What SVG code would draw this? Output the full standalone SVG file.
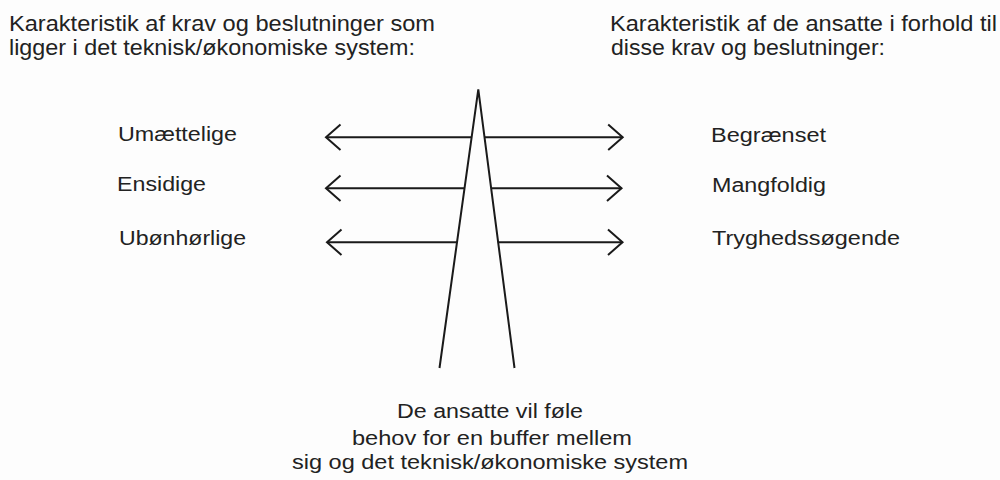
<svg xmlns="http://www.w3.org/2000/svg" width="1000" height="480" viewBox="0 0 1000 480">
  <style>
    text { font-family: "Liberation Sans", Arial, sans-serif; fill: #222; }
    .h { font-size: 22px; }
    .l { font-size: 20px; }
    .ln { stroke: #1a1a1a; stroke-width: 2; fill: none; }
  </style>
  <defs>
    <marker id="chev" markerUnits="userSpaceOnUse" markerWidth="40" markerHeight="40" refX="0" refY="0" viewBox="-20 -20 40 40" orient="auto" overflow="visible">
      <path d="M-14.5,-12.7 L0,0 L-14.5,12.7" stroke="#1a1a1a" stroke-width="2" fill="none" stroke-linejoin="miter"/>
    </marker>
  </defs>
  <rect width="1000" height="480" fill="#fdfdfd"/>

  <g id="heading-left">
    <text class="h" x="9" y="31" textLength="426" lengthAdjust="spacingAndGlyphs">Karakteristik af krav og beslutninger som</text>
    <text class="h" x="9" y="55" textLength="406" lengthAdjust="spacingAndGlyphs">ligger i det teknisk/økonomiske system:</text>
  </g>
  <g id="heading-right">
    <text class="h" x="610" y="31" textLength="387" lengthAdjust="spacingAndGlyphs">Karakteristik af de ansatte i forhold til</text>
    <text class="h" x="611" y="55" textLength="274" lengthAdjust="spacingAndGlyphs">disse krav og beslutninger:</text>
  </g>

  <g id="buffer">
    <path class="ln" d="M439.5,368 L478.3,89.3 L514.5,368" stroke-linejoin="miter"/>
  </g>

  <g id="connectors">
    <line class="ln" x1="471.7" y1="137.3" x2="326" y2="137.3" marker-end="url(#chev)"/>
    <line class="ln" x1="484.3" y1="137.3" x2="622.7" y2="137.3" marker-end="url(#chev)"/>
    <line class="ln" x1="464.5" y1="188.3" x2="326" y2="188.3" marker-end="url(#chev)"/>
    <line class="ln" x1="491" y1="188.3" x2="621.5" y2="188.3" marker-end="url(#chev)"/>
    <line class="ln" x1="457" y1="242.3" x2="327" y2="242.3" marker-end="url(#chev)"/>
    <line class="ln" x1="497.8" y1="242.3" x2="622.5" y2="242.3" marker-end="url(#chev)"/>
  </g>

  <g id="label-umaettelige"><text class="l" x="118" y="141" textLength="119" lengthAdjust="spacingAndGlyphs">Umættelige</text></g>
  <g id="label-ensidige"><text class="l" x="117" y="191" textLength="89" lengthAdjust="spacingAndGlyphs">Ensidige</text></g>
  <g id="label-uboenhoerlige"><text class="l" x="119" y="244.5" textLength="127" lengthAdjust="spacingAndGlyphs">Ubønhørlige</text></g>

  <g id="label-begraenset"><text class="l" x="711" y="141.5" textLength="115" lengthAdjust="spacingAndGlyphs">Begrænset</text></g>
  <g id="label-mangfoldig"><text class="l" x="712" y="192" textLength="114" lengthAdjust="spacingAndGlyphs">Mangfoldig</text></g>
  <g id="label-tryghedssoegende"><text class="l" x="712" y="245" textLength="188" lengthAdjust="spacingAndGlyphs">Tryghedssøgende</text></g>

  <g id="bottom-text">
    <text class="l" x="397" y="418" textLength="186" lengthAdjust="spacingAndGlyphs">De ansatte vil føle</text>
    <text class="l" x="352" y="445" textLength="280" lengthAdjust="spacingAndGlyphs">behov for en buffer mellem</text>
    <text class="l" x="292" y="469" textLength="396" lengthAdjust="spacingAndGlyphs">sig og det teknisk/økonomiske system</text>
  </g>
</svg>
